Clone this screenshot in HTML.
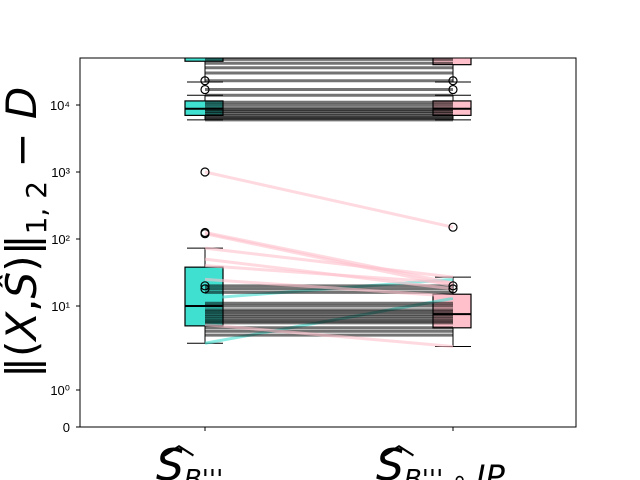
<!DOCTYPE html>
<html><head><meta charset="utf-8"><style>body{margin:0;background:#fff;overflow:hidden}svg{display:block;font-family:"Liberation Sans","DejaVu Sans",sans-serif}</style></head>
<body>
<svg id="c" width="640" height="480">
<defs><clipPath id="clip"><rect x="80" y="58" width="496" height="369"/></clipPath></defs>
<g id="plot" clip-path="url(#clip)"></g>
<rect x="80" y="58" width="496" height="369" fill="none" stroke="#000" stroke-width="1"/>
<g id="yticks"></g>
<g>
<line x1="205" y1="427" x2="205" y2="431" stroke="#000"/>
<line x1="453" y1="427" x2="453" y2="431" stroke="#000"/>
<text x="156" y="480" font-size="44" font-style="italic" font-family="DejaVu Sans">S<tspan font-size="26" dy="8">B'''</tspan></text>
<text x="163" y="454" font-size="32" font-family="DejaVu Sans">︿</text>
<text x="376" y="480" font-size="44" font-style="italic" font-family="DejaVu Sans">S<tspan font-size="26" dy="8">B''' </tspan><tspan font-style="normal" font-size="26">∘ </tspan><tspan font-size="32">IP</tspan></text>
<text x="383" y="454" font-size="32" font-family="DejaVu Sans">︿</text>
</g>
<text transform="translate(36,378) rotate(-90)" font-size="42" font-family="DejaVu Sans">‖(<tspan font-style="italic">X</tspan>,<tspan font-style="italic">Ŝ</tspan>)‖<tspan font-size="28" dy="10">1, 2</tspan><tspan dy="-10"> − </tspan><tspan font-style="italic">D</tspan></text>
<script>
const pairLeft  = [3.6,4.5,5,5.5,6,6.3,6.6,7,7.5,8,8.5,9,10,11,13,16,18,20,25,40,50,73,120,125,1000, 6000,6300,6600,7000,7500,8000,8500,9000,10000,11000,14000,17000,23000,30000,36000,42000,48000];
const pairRight = [13,4.5,5,5.5,3.3,6.3,6.6,7,7.5,8,8.5,9,10,11,25,16,18,20,14,22,18,27,20,22,150, 6000,6300,6600,7000,7500,8000,8500,9000,10000,11000,14000,17000,23000,30000,36000,42000,48000];
const boxPos = [205, 453];
const boxColors = ['#40e0d0', '#ffc0cb'];
const lowStats  = [[3.6,5.8,10,38,73],[3.3,5.5,8,15,27]];
const highStats = [[6000,7000,8800,11500,14000],[6000,7000,8800,11500,14000]];
const topStats  = [[22000,45000,52000,60000,70000],[22000,40000,52000,60000,70000]];
const outliers  = [[18,20,120,125,1000,17000,23000],[18,20,150,17000,23000]];
const yTicks = [0,1,10,100,1000,10000];
const yTickLabels = ['0','10⁰','10¹','10²','10³','10⁴'];

function y(v){
  if(v<=1) return 427 - v*37;
  if(v<=10) return 390 - Math.log10(v)*84;
  return 306 - (Math.log10(v)-1)*67;
}
const NS='http://www.w3.org/2000/svg';
const plot=document.getElementById('plot');
function mk(tag,attrs,parent){const e=document.createElementNS(NS,tag);for(const k in attrs)e.setAttribute(k,attrs[k]);(parent||plot).appendChild(e);return e;}

function drawBox(s,i){
  const x=boxPos[i], w=38, bx = x-20;
  const l=mk('line',{x1:x,x2:x,y1:y(s[0]),y2:y(s[4]),stroke:'#000','stroke-width':1});
  
  
  for(const v of [s[0],s[4]]){
    const c=mk('line',{x1:x-18,x2:x+18,y1:y(v),y2:y(v),stroke:'#000','stroke-width':1});
    
    
  }
  const r=mk('rect',{x:bx,y:y(s[3]),width:w,height:y(s[1])-y(s[3]),fill:boxColors[i],stroke:'#000','stroke-width':1.2});
  
  
  const m=mk('line',{x1:bx,x2:bx+w,y1:y(s[2]),y2:y(s[2]),stroke:'#000','stroke-width':2});
  
  
}
[lowStats,highStats,topStats].forEach(g=>g.forEach((s,i)=>drawBox(s,i)));

pairLeft.forEach((a,k)=>{
  const b=pairRight[k];
  const col = a>b*1.05 ? '#ffc0cb' : (b>a*1.05 ? '#40e0d0' : '#000');
  const op = col==='#000'?0.55:0.6;
  const ln=mk('line',{x1:boxPos[0],x2:boxPos[1],y1:y(a),y2:y(b),stroke:col,'stroke-width':3,'stroke-opacity':op});
  
  
});
outliers.forEach((arr,i)=>arr.forEach(v=>{
  const c=mk('circle',{cx:boxPos[i],cy:y(v),r:4,fill:'none',stroke:'#000','stroke-width':1.2});
  
  
}));

const yt=document.getElementById('yticks');
yTicks.forEach((v,k)=>{
  const t=mk('line',{x1:76,x2:80,y1:y(v),y2:y(v),stroke:'#000'},yt);
  
  
  const tx=mk('text',{x:70,y:y(v)+5,'text-anchor':'end','font-size':13},yt);
  tx.textContent=yTickLabels[k];
  
  
});
</script>
</svg>
</body></html>
